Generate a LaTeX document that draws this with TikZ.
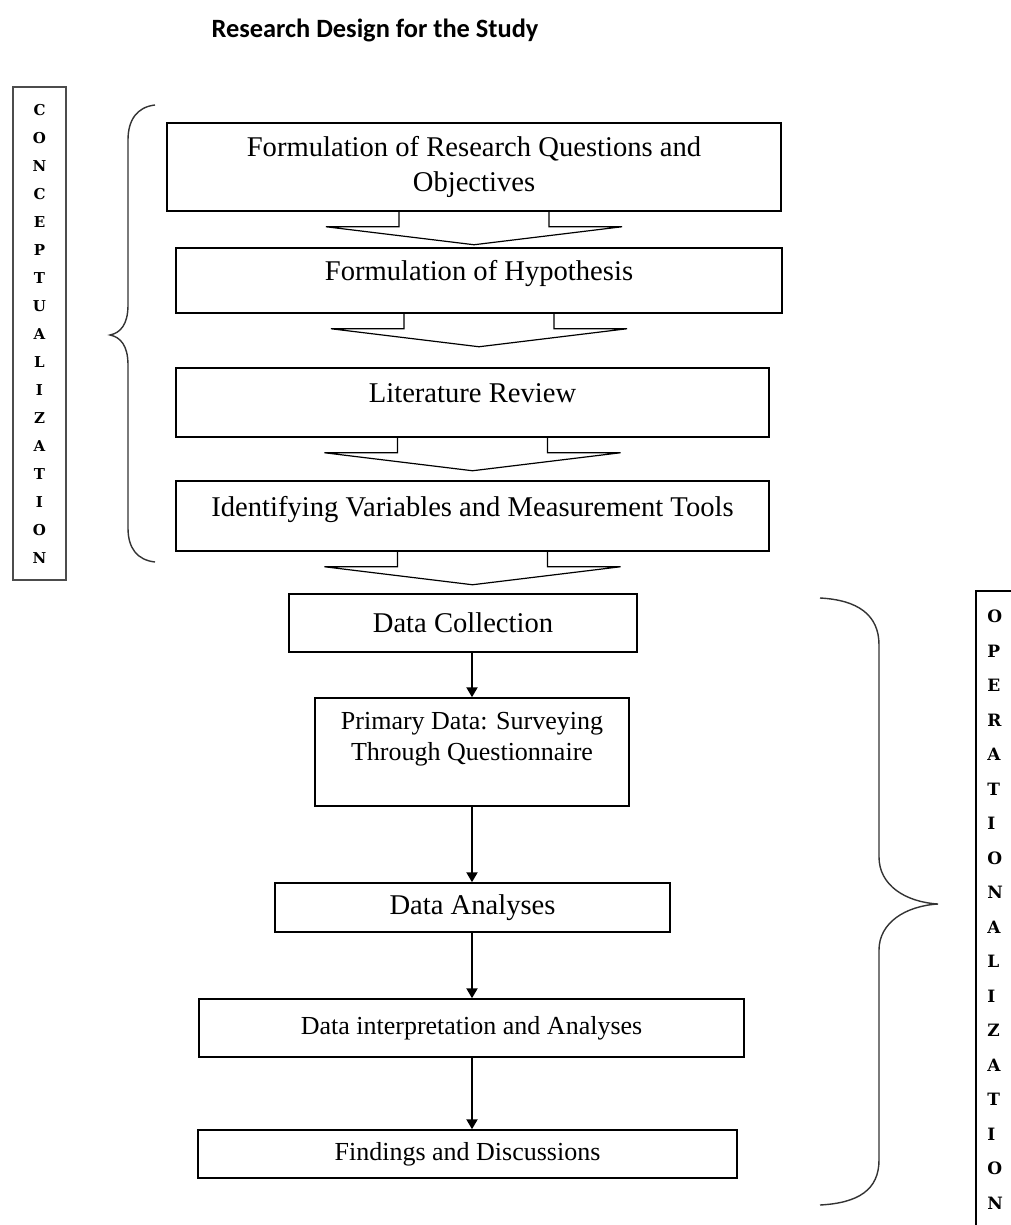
\documentclass[tikz,border=0pt]{standalone}
\usepackage{fontspec}
\setmainfont{Liberation Serif}
\newfontfamily\titlefont{Carlito}
\newfontfamily\stackfont{DejaVu Serif}
\usetikzlibrary{arrows.meta,calc}

\begin{document}
\begin{tikzpicture}[x=0.5pt, y=-0.5pt,
  box/.style={draw, line width=0.75pt, inner sep=0pt, align=center, font=\fontsize{14.3}{17.5}\selectfont},
  small/.style={font=\fontsize{13}{15.5}\selectfont},
  toptext/.style={text height=10pt, text depth=10pt},
  flow/.style={line width=1.1pt, -{Triangle[width=5.5pt,length=5pt]}},
  wide/.style={line width=0.6pt, line join=miter},
  brace/.style={line width=0.7pt, black!80},
  stackL/.style={draw=black!70, line width=1pt, inner sep=0pt, align=center, font=\stackfont\bfseries\fontsize{7.5}{14}\selectfont},
  stackR/.style={inner sep=0pt, align=left, font=\stackfont\bfseries\fontsize{8.5}{17.25}\selectfont}
]
\clip (0,0) rectangle (1011,1225);
\node[font=\titlefont\bfseries\fontsize{13.2}{16}\selectfont] (title) at (375,30) {Research Design for the Study};

% conceptualization
\node[box, minimum width=307pt, minimum height=44pt] (b1) at (474,167) {Formulation of Research Questions and\\Objectives};
\node[box, toptext, minimum width=303pt, minimum height=32.5pt] (b2) at (479,280.5) {Formulation of Hypothesis};
\node[box, toptext, minimum width=296.5pt, minimum height=34.5pt] (b3) at (472.5,402.5) {Literature Review};
\node[box, toptext, minimum width=296.5pt, minimum height=35pt] (b4) at (472.5,516) {Identifying Variables and Measurement Tools};

\foreach \a in {b1,b2,b3,b4}
  \draw[wide] ($(\a.south)+(-75,0)$) -- ++(0,15) -- ++(-73,0)
    -- ($(\a.south)+(0,33)$) -- ($(\a.south)+(148,15)$) -- ++(-73,0) -- ++(0,-15);

% operationalization
\node[box, minimum width=174pt, minimum height=29pt] (b5) at (463,623) {Data Collection};
\node[box, small, minimum width=157pt, minimum height=54pt] (b6) at (472,752) {Primary Data: Surveying\\Through Questionnaire\\\mbox{}};
\node[box, minimum width=197.5pt, minimum height=24.5pt] (b7) at (472.5,907.5) {Data Analyses};
\node[box, small, minimum width=272.5pt, minimum height=29pt] (b8) at (471.5,1028) {Data interpretation and Analyses};
\node[box, small, minimum width=269.5pt, minimum height=24pt] (b9) at (467.5,1154) {Findings and Discussions};

\draw[flow] (b6.north |- b5.south) -- (b6.north);
\draw[flow] (b6.south) -- (b6.south |- b7.north);
\draw[flow] (b6.south |- b7.south) -- (b6.south |- b8.north);
\draw[flow] (b6.south |- b8.south) -- (b6.south |- b9.north);

% side labels
\node[stackL, minimum width=26.5pt, minimum height=246.5pt] (cbox) at (39.5,333.5)
  {C\\O\\N\\C\\E\\P\\T\\U\\A\\L\\I\\Z\\A\\T\\I\\O\\N};
\node[draw, line width=0.75pt, anchor=north west, minimum width=60pt, minimum height=340pt] (obox) at (975,590) {};
\node[stackR, anchor=west] (olbl) at (987,909.5)
  {O\\P\\E\\R\\A\\T\\I\\O\\N\\A\\L\\I\\Z\\A\\T\\I\\O\\N};

\draw[brace] (155,105) .. controls (137,107) and (128,120) .. (128,140) -- (128,305)
  .. controls (128,325) and (120,333) .. (110,335) .. controls (120,337) and (128,345) .. (128,365)
  -- (128,528) .. controls (128,548) and (137,560) .. (155,562);
\draw[brace] (820,598) .. controls (858,600) and (879,615) .. (879,645) -- (879,857)
  .. controls (879,885) and (905,902) .. (938,904) .. controls (905,906) and (879,923) .. (879,950)
  -- (879,1160) .. controls (879,1190) and (858,1203) .. (820,1205);
\end{tikzpicture}
\end{document}
